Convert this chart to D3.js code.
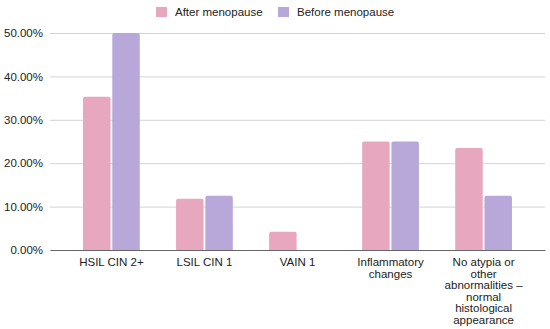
<!DOCTYPE html>
<html>
<head>
<meta charset="utf-8">
<script src="https://cdn.jsdelivr.net/npm/d3@7"></script>
<style>
  body { margin: 0; background: #fff; }
  svg { font-family: "Liberation Sans", Arial, Helvetica, sans-serif; }
</style>
</head>
<body>
<div class="chart"></div>
<script>
// Categories (line breaks as in the original labels)
var categories = [
    "HSIL CIN 2+",
    "LSIL CIN 1",
    "VAIN 1",
    "Inflammatory\nchanges",
    "No atypia or\nother\nabnormalities –\nnormal\nhistological\nappearance"
];
var seriesNames = ["After menopause", "Before menopause"];
var afterValues = [35.3, 11.8, 4.2, 25.0, 23.5];
var beforeValues = [50.0, 12.5, 0, 25.0, 12.5];
var yTicks = [0, 10, 20, 30, 40, 50];

var width = 550;
var height = 329;
var margin = ({ top: 33, right: 5, bottom: 79, left: 50 });

var colors = d3.scaleOrdinal()
    .domain(seriesNames)
    .range(["#e7a7bf", "#b8a8da"]);

var data = categories.map((c, i) => ({ cat: c, values: [afterValues[i], beforeValues[i]] }));

const svg = d3.select("div.chart")
    .append("svg")
    .attr("width", width)
    .attr("height", height);

// Scales
var x = d3.scaleBand()
    .domain(categories)
    .range([margin.left, width - margin.right])
    .paddingInner(0.39)
    .paddingOuter(0.355);
var xs = d3.scaleBand()
    .domain(seriesNames)
    .range([0, x.bandwidth()])
    .paddingInner(0.06);
var y = d3.scaleLinear()
    .domain([0, 50])
    .range([height - margin.bottom, margin.top]);

// Grid lines
svg.append("g")
    .attr("transform", `translate(${margin.left},0)`)
    .call(d3.axisRight(y).tickValues(yTicks.slice(1)).tickSize(width - margin.left - margin.right).tickFormat(""))
    .call(g => g.select(".domain").remove())
    .call(g => g.selectAll(".tick line").attr("stroke", "#d4d4d4"));

// y axis labels
svg.append("g")
    .attr("transform", `translate(${margin.left},0)`)
    .call(d3.axisLeft(y).tickValues(yTicks).tickSize(0).tickPadding(7).tickFormat(d => d.toFixed(2) + "%"))
    .call(g => g.select(".domain").remove())
    .style("font-family", "inherit")
    .style("font-size", "11.5px")
    .style("color", "#222");

// Bars
svg.append("g")
    .selectAll("g")
    .data(data)
    .join("g")
    .attr("transform", d => `translate(${x(d.cat)},0)`)
    .selectAll("path")
    .data(d => d.values.map((v, i) => ({ key: seriesNames[i], value: v })).filter(d => d.value > 0))
    .join("path")
      .attr("fill", d => colors(d.key))
      .attr("d", d => {
          var x0 = xs(d.key), w = xs.bandwidth(), y0 = y(d.value), y1 = y(0), r = 2;
          return `M${x0},${y1}V${y0 + r}Q${x0},${y0} ${x0 + r},${y0}H${x0 + w - r}Q${x0 + w},${y0} ${x0 + w},${y0 + r}V${y1}Z`;
      });

// x axis
svg.append("g")
    .attr("transform", `translate(0,${height - margin.bottom})`)
    .call(d3.axisBottom(x).tickSize(0).tickFormat(""))
    .call(g => g.select(".domain").attr("stroke", "#666").attr("stroke-width", 1.2))
    .call(g => g.selectAll(".tick").each(function (d) {
        var lines = d.split("\n");
        var t = d3.select(this).append("text")
            .attr("fill", "#222")
            .attr("text-anchor", "middle")
            .style("font-family", "Liberation Sans, Arial, sans-serif")
            .style("font-size", "11.5px");
        t.selectAll("tspan")
            .data(lines)
            .join("tspan")
            .attr("x", 0)
            .attr("y", (l, i) => 16 + i * 11.6)
            .text(l => l);
    }));

// Legend
var legend = svg.append("g")
    .selectAll("g")
    .data(seriesNames)
    .join("g")
    .attr("transform", (d, i) => `translate(${[156, 278][i]},7)`);
legend.append("rect")
    .attr("width", 11)
    .attr("height", 10)
    .attr("fill", d => colors(d));
legend.append("text")
    .attr("x", 19)
    .attr("y", 9)
    .attr("fill", "#222")
    .style("font-size", "11.5px")
    .text(d => d);
</script>
</body>
</html>
